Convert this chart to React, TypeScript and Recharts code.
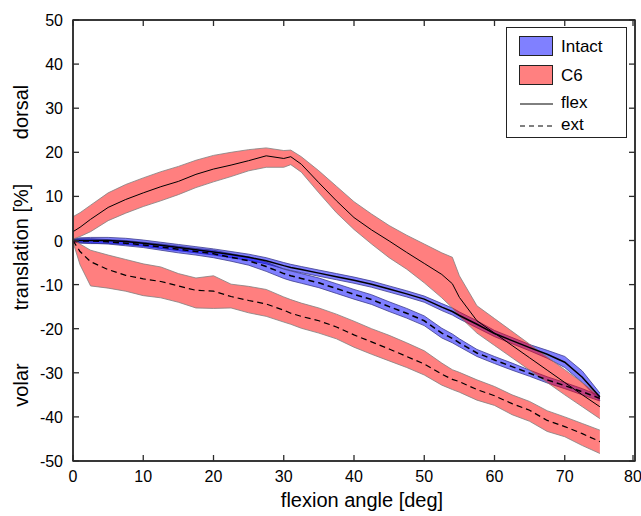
import { ComposedChart, Area, Line, XAxis, YAxis, ReferenceArea } from "recharts";

// flexion angle [deg] sample positions
const X = [0, 1, 2.5, 5, 7.5, 10, 12.5, 15, 17.5, 20, 22.5, 25, 27.5, 30, 31, 32.5, 35, 37.5, 40, 42.5, 45, 47.5, 50, 52.5, 54, 55, 57.5, 60, 62.5, 65, 67.5, 70, 72.5, 75];

// C6 flexion: mean and band
const c6FlexMid = [2, 3, 4.8, 7.5, 9.3, 10.8, 12.2, 13.4, 15, 16.2, 17.1, 18.1, 19.2, 18.6, 19, 17.3, 13.1, 9, 5.2, 2.4, -0.1, -2.7, -5.2, -7.7, -9.8, -12.9, -18.2, -21, -23.8, -26.6, -29.4, -32.2, -35, -37.7];
const c6FlexHi = [5.4, 6.3, 8, 10.8, 12.7, 14.2, 15.6, 16.8, 18.2, 19.3, 20, 20.6, 21, 20.4, 20.5, 19, 15.8, 12.3, 8.8, 6, 3.4, 1.2, -0.8, -2.8, -3.8, -8, -14.8, -17.7, -20.6, -23.5, -26.4, -29.3, -32.2, -35.3];
const c6FlexLo = [0.3, 0.9, 2, 4.5, 6.2, 7.7, 9, 10.4, 12, 13.3, 14.5, 15.8, 16.6, 16.6, 17.2, 15.5, 10.8, 6.3, 2.5, -0.8, -3.9, -6.5, -9.6, -13, -15.3, -17.2, -21, -23.8, -26.6, -29.4, -32.2, -35, -37.7, -40.4];

// C6 extension
const c6ExtMid = [0, -2.5, -4.8, -6.6, -7.9, -8.7, -9.3, -10.3, -11.3, -11.5, -12.7, -13.6, -14.4, -15.8, -16.5, -17.2, -18.2, -19.6, -21.4, -23, -24.6, -26.3, -28, -30.3, -31.5, -32, -33.8, -35.2, -37, -38.5, -40.8, -42.2, -43.8, -45.6];
const c6ExtHi = [0.4, -0.8, -2.2, -3.3, -4.3, -5.3, -6, -7.5, -8.5, -8, -9.9, -10.4, -11.1, -12.8, -13.4, -14.2, -15.3, -16.7, -18.3, -20, -21.5, -23.2, -25, -27.8, -29.3, -29.9, -31.6, -33.1, -35, -36.5, -38.6, -40, -41.5, -43];
const c6ExtLo = [-0.4, -5.5, -10.3, -10.8, -11.5, -12.5, -13, -14, -15.3, -15.4, -15.3, -16.4, -17.2, -18.5, -19, -19.9, -21, -22.3, -24.2, -25.8, -27.3, -28.8, -30.5, -32.8, -33.8, -34.4, -36.2, -37.4, -39.5, -41, -43.3, -44.5, -46.5, -48.3];

// Intact flexion
const intactFlexMid = [0, 0, 0, 0, -0.2, -0.6, -1.1, -1.6, -2.1, -2.6, -3.2, -3.8, -4.6, -5.7, -6.1, -6.6, -7.4, -8.2, -9, -9.9, -11, -12.1, -13.3, -15.1, -16.1, -17, -19, -21.1, -22.7, -24.3, -25.8, -27.6, -31, -35.5];
const intactFlexHi = [0.4, 0.6, 0.7, 0.7, 0.5, 0.1, -0.4, -0.9, -1.4, -1.9, -2.5, -3.1, -3.9, -5, -5.4, -5.9, -6.7, -7.5, -8.3, -9.2, -10.3, -11.4, -12.6, -14.3, -15.3, -16.2, -18.2, -20.4, -22, -23.6, -24.9, -26.3, -29.6, -34.6];
const intactFlexLo = [-0.3, -0.6, -0.7, -0.7, -0.9, -1.3, -1.8, -2.3, -2.8, -3.3, -3.9, -4.5, -5.3, -6.4, -6.8, -7.3, -8.1, -8.9, -9.7, -10.6, -11.7, -12.8, -14, -15.9, -16.9, -17.8, -19.8, -21.8, -23.4, -25, -26.7, -28.8, -32.2, -36.3];

// Intact extension
const intactExtMid = [0, -0.1, -0.1, -0.3, -0.6, -1, -1.5, -2, -2.5, -3, -3.8, -4.6, -5.9, -7.5, -8, -8.6, -9.6, -10.9, -12.2, -13.4, -15, -16.5, -18.2, -21, -22.2, -23.2, -25.5, -27.1, -28.6, -30.1, -31.6, -32.9, -34.3, -35.8];
const intactExtHi = [0.3, 0.4, 0.4, 0.2, 0, -0.4, -0.8, -1.3, -1.8, -2.2, -3, -3.7, -4.9, -6.5, -6.9, -7.5, -8.5, -9.8, -11.1, -12.3, -13.9, -15.4, -17.1, -19.9, -21.2, -22.3, -24.7, -26.3, -27.8, -29.4, -30.9, -32.2, -33.6, -35.2];
const intactExtLo = [-0.3, -0.5, -0.6, -0.8, -1.2, -1.6, -2.2, -2.8, -3.3, -3.9, -4.7, -5.6, -7, -8.6, -9.1, -9.7, -10.7, -12, -13.3, -14.5, -16.1, -17.6, -19.3, -22.1, -23.2, -24.1, -26.3, -27.9, -29.4, -30.8, -32.3, -33.6, -35, -36.4];

const X_TICKS = [0, 10, 20, 30, 40, 50, 60, 70, 80];
const Y_TICKS = [-50, -40, -30, -20, -10, 0, 10, 20, 30, 40, 50];

const data = X.map((x, i) => ({
  x,
  c6Flex: [c6FlexLo[i], c6FlexHi[i]],
  c6FlexMid: c6FlexMid[i],
  c6Ext: [c6ExtLo[i], c6ExtHi[i]],
  c6ExtMid: c6ExtMid[i],
  intactFlex: [intactFlexLo[i], intactFlexHi[i]],
  intactFlexMid: intactFlexMid[i],
  intactExt: [intactExtLo[i], intactExtHi[i]],
  intactExtMid: intactExtMid[i],
}));

const FONT = '"Liberation Sans", Arial, Helvetica, sans-serif';
const AXIS = "#2b2b2b";
const TICK_LEN = 6;
const LABEL_GAP = 10;

// tick label outside, tick mark pointing into the plot (matlab style)
const BottomTick = ({ x, y, payload }: any) => (
  <g>
    <line x1={x} x2={x} y1={y - LABEL_GAP} y2={y - LABEL_GAP - TICK_LEN} stroke={AXIS} strokeWidth={1.3} />
    <text x={x} y={y + 11} textAnchor="middle" fontSize={16} fill="#000" fontFamily={FONT}>
      {payload.value}
    </text>
  </g>
);

const LeftTick = ({ x, y, payload }: any) => (
  <g>
    <line x1={x + LABEL_GAP} x2={x + LABEL_GAP + TICK_LEN} y1={y} y2={y} stroke={AXIS} strokeWidth={1.3} />
    <text x={x} y={y + 6} textAnchor="end" fontSize={16} fill="#000" fontFamily={FONT}>
      {payload.value}
    </text>
  </g>
);

const TopTick = ({ x, y }: any) => <line x1={x} x2={x} y1={y} y2={y + TICK_LEN} stroke={AXIS} strokeWidth={1.3} />;
const RightTick = ({ x, y }: any) => <line x1={x} x2={x - TICK_LEN} y1={y} y2={y} stroke={AXIS} strokeWidth={1.3} />;

const PlotLegend = () => (
  <div
    style={{
      position: "absolute",
      left: 506,
      top: 27,
      width: 121,
      height: 111,
      boxSizing: "border-box",
      border: "1px solid #222",
      background: "#fff",
      fontFamily: FONT,
      fontSize: 17,
      color: "#000",
    }}
  >
    <div style={{ position: "absolute", left: 12, top: 8, width: 34, height: 20, boxSizing: "border-box", border: "1px solid #222", background: "#8080ff" }} />
    <div style={{ position: "absolute", left: 54, top: 8, lineHeight: "22px" }}>Intact</div>
    <div style={{ position: "absolute", left: 12, top: 37, width: 34, height: 20, boxSizing: "border-box", border: "1px solid #222", background: "#ff8080" }} />
    <div style={{ position: "absolute", left: 54, top: 37, lineHeight: "22px" }}>C6</div>
    <svg style={{ position: "absolute", left: 12, top: 66 }} width={36} height={40}>
      <line x1={1} x2={34} y1={10} y2={10} stroke="#000" strokeWidth={1} />
      <line x1={1} x2={34} y1={32} y2={32} stroke="#000" strokeWidth={1} strokeDasharray="5 4" />
    </svg>
    <div style={{ position: "absolute", left: 54, top: 64, lineHeight: "22px" }}>flex</div>
    <div style={{ position: "absolute", left: 54, top: 86, lineHeight: "22px" }}>ext</div>
  </div>
);

const yLabel = (text: string, cy: number) => (
  <div
    style={{
      position: "absolute",
      left: 21,
      top: cy,
      transform: "translate(-50%, -50%) rotate(-90deg)",
      whiteSpace: "nowrap",
      fontFamily: FONT,
      fontSize: 20,
      color: "#000",
    }}
  >
    {text}
  </div>
);

export default function App() {
  return (
    <div style={{ position: "absolute", left: 0, top: 0, width: 641, height: 516, background: "#fff" }}>
      <ComposedChart width={641} height={516} data={data} margin={{ top: 19, right: 5, bottom: 0, left: 0 }}>
        <XAxis
          dataKey="x"
          type="number"
          domain={[0, 80]}
          ticks={X_TICKS}
          height={55}
          tickSize={0}
          tickMargin={LABEL_GAP}
          stroke={AXIS}
          strokeWidth={1.5}
          tick={<BottomTick />}
        />
        <XAxis
          xAxisId="top"
          dataKey="x"
          type="number"
          orientation="top"
          domain={[0, 80]}
          ticks={X_TICKS}
          height={1}
          tickSize={0}
          tickMargin={0}
          tick={<TopTick />}
          stroke={AXIS}
          strokeWidth={1.5}
        />
        <YAxis
          type="number"
          domain={[-50, 50]}
          ticks={Y_TICKS}
          width={73}
          tickSize={0}
          tickMargin={LABEL_GAP}
          stroke={AXIS}
          strokeWidth={1.5}
          tick={<LeftTick />}
        />
        <YAxis
          yAxisId="right"
          type="number"
          orientation="right"
          domain={[-50, 50]}
          ticks={Y_TICKS}
          width={1}
          tickSize={0}
          tickMargin={0}
          tick={<RightTick />}
          stroke={AXIS}
          strokeWidth={1.5}
        />

        <Area dataKey="intactFlex" type="linear" fill="#0000ff" fillOpacity={0.5} stroke="#3c3c8c" strokeWidth={0.8} isAnimationActive={false} />
        <Area dataKey="intactExt" type="linear" fill="#0000ff" fillOpacity={0.5} stroke="#3c3c8c" strokeWidth={0.8} isAnimationActive={false} />
        <Area dataKey="c6Flex" type="linear" fill="#ff0000" fillOpacity={0.5} stroke="#808080" strokeWidth={0.8} isAnimationActive={false} />
        <Area xAxisId="top" yAxisId="right" dataKey="c6Ext" type="linear" fill="#ff0000" fillOpacity={0.5} stroke="#808080" strokeWidth={0.8} isAnimationActive={false} />

        <Line dataKey="intactFlexMid" type="linear" stroke="#000" strokeWidth={1.5} dot={false} activeDot={false} isAnimationActive={false} />
        <Line dataKey="intactExtMid" type="linear" stroke="#000" strokeWidth={1.5} strokeDasharray="6 4" dot={false} activeDot={false} isAnimationActive={false} />
        <Line dataKey="c6FlexMid" type="linear" stroke="#000" strokeWidth={1} dot={false} activeDot={false} isAnimationActive={false} />
        <Line xAxisId="top" yAxisId="right" dataKey="c6ExtMid" type="linear" stroke="#000" strokeWidth={1.2} strokeDasharray="6 4" dot={false} activeDot={false} isAnimationActive={false} />

        {/* plot frame, in case the axis lines sit under the patches */}
        <ReferenceArea x1={0} x2={80} y1={-50} y2={50} fill="none" stroke={AXIS} strokeWidth={1.5} />
      </ComposedChart>
      <PlotLegend />
      {yLabel("dorsal", 112)}
      {yLabel("translation [%]", 247)}
      {yLabel("volar", 385)}
      <div style={{ position: "absolute", left: 362, top: 489, transform: "translateX(-50%)", whiteSpace: "nowrap", fontFamily: FONT, fontSize: 20, color: "#000" }}>
        flexion angle [deg]
      </div>
    </div>
  );
}
